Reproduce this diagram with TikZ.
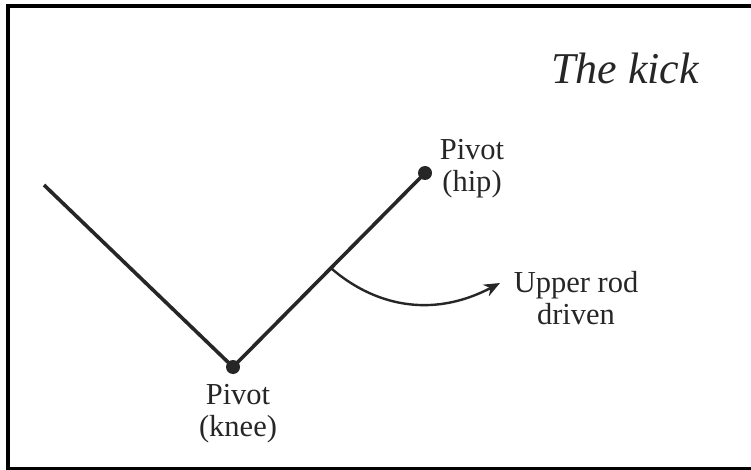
\documentclass[tikz,border=0pt]{standalone}
\usepackage{fontspec}
\setmainfont{Liberation Serif}
\usetikzlibrary{arrows.meta,calc}
\definecolor{ink}{HTML}{262626}
\tikzset{
  rod/.style={line width=3.6pt, draw=ink},
  pivotdot/.style={circle, fill=ink, inner sep=0pt, minimum size=14pt},
  lbl/.style={align=center, inner sep=0pt, anchor=north, text=ink, font=\fontsize{30.5}{32}\selectfont},
  frameline/.style={draw=black, line width=4pt},
  drivearrow/.style={draw=ink, line width=2.4pt, -{Stealth[length=16pt,width=13pt]}}
}
\begin{document}
\begin{tikzpicture}[x=1pt,y=-1pt]
\useasboundingbox (0,0) rectangle (751,470);
% frame
\coordinate (f1) at (8,470);
\coordinate (f2) at (8,6);
\coordinate (f0) at (6,6);
\coordinate (f3) at (751,6);
\coordinate (f4) at (6,468.5);
\coordinate (f5) at (751,468.5);
\draw[frameline] (f1) -- (f2);
\draw[frameline] (f0) -- (f3);
\draw[draw=black, line width=3pt] (f4) -- (f5);
% title
\node[lbl, font=\fontsize{44}{48}\selectfont\itshape] (title) at (625,53) {The kick};
% rods
\coordinate (foot) at (44,185);
\node[pivotdot] (knee) at (233,367) {};
\node[pivotdot] (hip) at (425,173) {};
\draw[rod] (foot) -- (knee.center);
\draw[rod] (knee.center) -- (hip.center);
% labels
\node[lbl] (hiplbl) at (472,139) {Pivot\\(hip)};
\node[lbl] (kneelbl) at (238,384) {Pivot\\(knee)};
\node[lbl] (drivelbl) at (576,271) {Upper rod\\driven};
% arrow
\coordinate (astart) at ($(knee.center)!0.51!(hip.center)$);
\coordinate (aend) at (500,283);
\draw[drivearrow] (astart) .. controls (372,304) and (430,320) .. (aend);
\end{tikzpicture}
\end{document}
